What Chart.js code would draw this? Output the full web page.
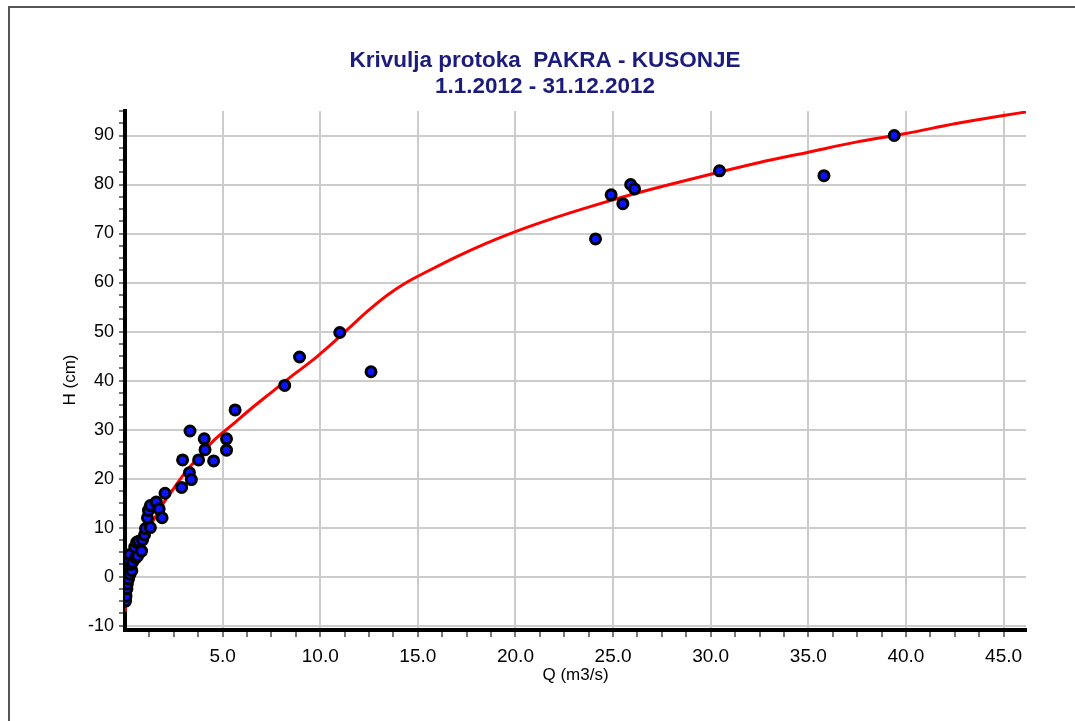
<!DOCTYPE html>
<html>
<head>
<meta charset="utf-8">
<title>Krivulja protoka PAKRA - KUSONJE</title>
<script src="https://cdn.jsdelivr.net/npm/chart.js@4.4.1/dist/chart.umd.min.js"></script>
<style>
  html, body { margin: 0; padding: 0; background: #ffffff; }
  #wrap { position: relative; width: 1075px; height: 721px; }
</style>
</head>
<body>
<div id="wrap"><canvas id="c" width="1075" height="721"></canvas></div>
<script>
// Rating curve (Q in m3/s, H in cm)
const curveQ = [0, 0.1, 0.25, 0.5, 0.75, 1.0, 1.25, 1.5, 2.0, 2.5, 3.0, 3.75, 4.5, 5.5, 6.5, 7.5, 8.5, 9.5, 10.5, 11.5, 12.5, 13.5, 14.5, 15.5, 17.0, 18.5, 20.0, 22.0, 24.0, 26.0, 28.0, 30.0, 32.5, 35.0, 37.5, 40.0, 42.5, 45.0, 46.15];
const curveH = [-7.2, -3.0, 0.0, 3.5, 6.2, 8.3, 10.2, 11.8, 15.2, 18.0, 20.8, 24.3, 27.6, 31.0, 34.4, 37.6, 40.8, 43.8, 47.2, 50.8, 54.4, 57.6, 60.2, 62.3, 65.3, 68.0, 70.4, 73.2, 75.7, 78.0, 80.1, 82.1, 84.5, 86.6, 88.7, 90.4, 92.4, 94.1, 94.8];

// Measurements
const obsQ = [0.03, 0.05, 0.1, 0.12, 0.18, 0.25, 0.35, 0.3, 0.2, 0.25, 0.4, 0.55, 0.65, 0.5, 0.6, 0.7, 0.85, 0.9, 1.0, 1.05, 1.3, 1.15, 1.2, 1.3, 1.6, 1.75, 1.9, 2.05,
              2.9, 2.95, 3.33, 3.3, 3.4, 3.77, 4.06, 4.1, 4.54, 5.2, 5.2, 5.64, 8.18, 8.94, 11.0, 12.6,
              24.1, 24.9, 25.5, 25.9, 26.1, 30.45, 35.8, 39.4];
const obsH = [-5.0, -4.0, -2.5, -1.5, -0.5, 0.5, 1.2, 2.5, 3.5, 4.5, 3.0, 3.8, 4.2, 6.0, 7.0, 7.2, 5.2, 7.5, 8.5, 9.8, 10.0, 12.0, 13.5, 14.5, 15.2, 13.8, 12.0, 17.0,
              18.2, 23.8, 29.7, 21.2, 19.8, 23.8, 28.1, 25.9, 23.6, 28.1, 25.8, 34.0, 39.0, 44.8, 49.8, 41.8,
              68.9, 77.9, 76.1, 80.0, 79.1, 82.8, 81.8, 90.0];

// Axis ranges, labelled values and minor tick spacing
const xRange = [0, 46.15];
const yRange = [-10.9, 95];
const xLabels = [5, 10, 15, 20, 25, 30, 35, 40, 45];
const yLabels = [-10, 0, 10, 20, 30, 40, 50, 60, 70, 80, 90];
const xMinorStep = 1.25;
const yMinorStep = 2.5;

const titleLines = ['Krivulja protoka  PAKRA - KUSONJE', '1.1.2012 - 31.12.2012'];
const xTitle = 'Q (m3/s)';
const yTitle = 'H (cm)';

const FONT = "'Liberation Sans', Arial, Helvetica, sans-serif";

const isLabel = (list, v) => list.some(l => Math.abs(l - v) < 1e-6);

// Tick positions every minor step inside the axis range
function minorTicks(range, step) {
  const out = [];
  const start = Math.ceil(range[0] / step - 1e-9);
  const end = Math.floor(range[1] / step + 1e-9);
  for (let k = start; k <= end; k++) out.push({ value: +(k * step).toFixed(4) });
  return out;
}

const curvePts = curveQ.map((q, i) => ({ x: q, y: curveH[i] }));
const obsPts = obsQ.map((q, i) => ({ x: q, y: obsH[i] }));

// Page frame, heading and vertical axis caption
const framePlugin = {
  id: 'frame',
  beforeDraw(chart) {
    const ctx = chart.ctx;
    ctx.save();
    ctx.fillStyle = '#ffffff';
    ctx.fillRect(0, 0, chart.width, chart.height);
    ctx.strokeStyle = '#555555';
    ctx.lineWidth = 2;
    ctx.beginPath();
    ctx.moveTo(9, chart.height);
    ctx.lineTo(9, 7);
    ctx.lineTo(chart.width, 7);
    ctx.stroke();
    ctx.restore();
  },
  afterDraw(chart) {
    const ctx = chart.ctx;
    ctx.save();
    ctx.fillStyle = '#1c1c7c';
    ctx.font = 'bold 22.5px ' + FONT;
    ctx.textAlign = 'center';
    ctx.textBaseline = 'middle';
    ctx.fillText(titleLines[0], 545, 61);
    ctx.fillText(titleLines[1], 545, 87);

    ctx.fillStyle = '#000000';
    ctx.font = '17px ' + FONT;
    ctx.translate(70, 380);
    ctx.rotate(-Math.PI / 2);
    ctx.fillText(yTitle, 0, 0);
    ctx.restore();
  }
};

new Chart(document.getElementById('c'), {
  type: 'scatter',
  data: {
    datasets: [
      {
        label: 'Mjerenja',
        data: obsPts,
        order: 0,
        pointRadius: 5,
        pointHoverRadius: 5,
        pointBackgroundColor: '#0a14ff',
        pointBorderColor: '#000000',
        pointBorderWidth: 3,
        showLine: false
      },
      {
        label: 'Krivulja',
        data: curvePts,
        order: 1,
        showLine: true,
        pointRadius: 0,
        borderColor: '#ff0000',
        borderWidth: 3,
        cubicInterpolationMode: 'monotone',
        fill: false
      }
    ]
  },
  options: {
    responsive: false,
    animation: false,
    devicePixelRatio: 1,
    layout: { padding: { left: 52, right: 49, top: 111, bottom: 35 } },
    plugins: {
      legend: { display: false },
      title: { display: false },
      tooltip: { enabled: false }
    },
    scales: {
      x: {
        type: 'linear',
        min: xRange[0],
        max: xRange[1],
        afterBuildTicks(scale) { scale.ticks = minorTicks(xRange, xMinorStep); },
        afterFit(scale) { scale.height = 56; },
        border: { display: true, color: '#000000', width: 4 },
        grid: {
          color: (c) => (c.tick && isLabel(xLabels, c.tick.value)) ? '#cccccc' : 'rgba(0,0,0,0)',
          lineWidth: 2,
          drawTicks: true,
          tickLength: 7,
          tickWidth: 1.5,
          tickColor: (c) => (c.tick && c.tick.value > 0) ? '#4a4a4a' : 'rgba(0,0,0,0)'
        },
        ticks: {
          autoSkip: false,
          maxRotation: 0,
          padding: 8,
          color: '#000000',
          font: { family: FONT, size: 19 },
          callback: (v) => isLabel(xLabels, v) ? v.toFixed(1) : ''
        },
        title: {
          display: true,
          text: xTitle,
          color: '#000000',
          font: { family: FONT, size: 17 },
          padding: { top: 0, bottom: 0 }
        }
      },
      y: {
        type: 'linear',
        min: yRange[0],
        max: yRange[1],
        afterBuildTicks(scale) { scale.ticks = minorTicks(yRange, yMinorStep); },
        afterFit(scale) { scale.width = 73; },
        border: { display: true, color: '#000000', width: 4 },
        grid: {
          color: (c) => (c.tick && isLabel(yLabels, c.tick.value)) ? '#cccccc' : 'rgba(0,0,0,0)',
          lineWidth: 2,
          drawTicks: true,
          tickLength: 6,
          tickWidth: 1.5,
          tickColor: '#4a4a4a'
        },
        ticks: {
          autoSkip: false,
          padding: 5,
          color: '#000000',
          font: { family: FONT, size: 18 },
          callback: (v) => isLabel(yLabels, v) ? String(Math.round(v)) : ''
        },
        title: { display: false }
      }
    }
  },
  plugins: [framePlugin]
});
</script>
</body>
</html>
